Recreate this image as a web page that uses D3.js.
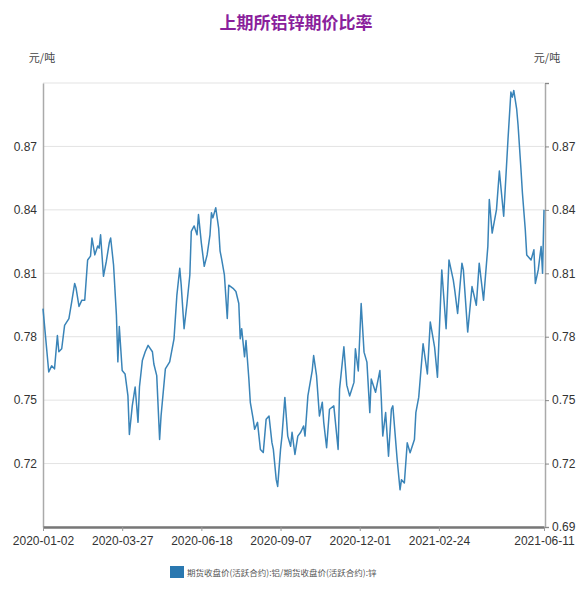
<!DOCTYPE html>
<html>
<head>
<meta charset="utf-8">
<script src="https://cdn.jsdelivr.net/npm/d3@7"></script>
<style>
  html, body { margin: 0; padding: 0; background: #ffffff; }
  svg { display: block; }
  text { font-family: "Liberation Sans", "Noto Sans CJK SC", sans-serif; }
</style>
</head>
<body>
<svg id="chart" width="576" height="590"></svg>
<script>
// ---- data ----
const chartTitle = "上期所铝锌期价比率";
const unitLabel = "元/吨";
const seriesName = "期货收盘价(活跃合约):铝/期货收盘价(活跃合约):锌";

// trading-day index (0 = 2020-01-02, 348 = 2021-06-11)
const dayIndex = [
  0,4,6,8,10,11,13,15,18,20,22,23,25,27,29,31,33,34,36,38,39,40,42,44,46,47,49,51,52,53,
  55,57,59,60,62,64,66,67,69,71,73,76,77,79,81,82,85,88,91,93,95,96,98,100,102,103,105,107,108,110,
  112,114,116,117,118,120,122,123,124,126,128,129,132,134,136,137,138,140,141,143,144,146,147,149,151,153,155,157,159,160,
  162,163,165,166,168,170,172,173,175,177,179,181,182,184,187,188,190,192,194,195,197,199,202,205,206,209,211,213,216,217,
  219,221,223,225,227,228,231,234,235,236,238,240,242,243,246,248,249,251,253,255,258,259,261,264,267,269,272,274,277,280,
  282,285,286,288,291,292,295,298,301,303,306,309,310,312,315,317,320,323,325,326,327,329,330,332,333,335,336,339,341,342,
  344,346,347,348
];
const ratio = [
  0.7933,0.7633,0.7662,0.7648,0.7806,0.7729,0.7743,0.7854,0.7886,0.7967,0.8052,0.8029,0.7943,0.7973,0.7973,0.8163,0.8181,0.8267,0.8187,0.8229,0.8219,0.8282,0.8086,0.8157,0.8243,0.8267,0.8140,0.7901,0.7681,0.7848,
  0.7640,0.7624,0.7520,0.7338,0.7473,0.7562,0.7395,0.7562,0.7687,0.7729,0.7759,0.7729,0.7671,0.7616,0.7314,0.7425,0.7648,0.7681,0.7790,0.7997,0.8124,0.8044,0.7838,0.7957,0.8092,0.8298,0.8324,0.8282,0.8378,0.8243,
  0.8133,0.8187,0.8282,0.8386,0.8362,0.8410,0.8314,0.8205,0.8171,0.8092,0.7886,0.8044,0.8029,0.8014,0.7957,0.7790,0.7838,0.7705,0.7782,0.7600,0.7490,0.7410,0.7362,0.7395,0.7267,0.7252,0.7410,0.7425,0.7300,0.7267,
  0.7124,0.7092,0.7267,0.7330,0.7513,0.7330,0.7282,0.7348,0.7243,0.7330,0.7348,0.7378,0.7330,0.7520,0.7640,0.7711,0.7616,0.7425,0.7490,0.7395,0.7275,0.7457,0.7473,0.7267,0.7552,0.7752,0.7571,0.7520,0.7584,0.7743,
  0.7638,0.7957,0.7727,0.7680,0.7441,0.7600,0.7537,0.7640,0.7505,0.7330,0.7441,0.7235,0.7457,0.7473,0.7219,0.7076,0.7124,0.7108,0.7298,0.7251,0.7314,0.7441,0.7514,0.7767,0.7624,0.7870,0.7751,0.7608,0.8116,0.7838,
  0.8163,0.8068,0.8020,0.7910,0.8148,0.8116,0.7822,0.8037,0.7949,0.8148,0.7973,0.8227,0.8449,0.8290,0.8401,0.8584,0.8370,0.8735,0.8957,0.8933,0.8965,0.8878,0.8799,0.8592,0.8481,0.8306,0.8187,0.8163,0.8211,0.8052,
  0.8116,0.8227,0.8100,0.8400
];

const xTickIndex = [0, 55, 110, 165, 220, 275, 348];
const xTickLabels = ["2020-01-02","2020-03-27","2020-06-18","2020-09-07","2020-12-01","2021-02-24","2021-06-11"];
const yTicks = [0.69, 0.72, 0.75, 0.78, 0.81, 0.84, 0.87, 0.90];
const yTickLabelsLeft = ["", "0.72", "0.75", "0.78", "0.81", "0.84", "0.87", ""];
const yTickLabelsRight = ["0.69", "0.72", "0.75", "0.78", "0.81", "0.84", "0.87", ""];

// ---- layout ----
const svg = d3.select("#chart");
const plotLeft = 43, plotRight = 544, plotTop = 83, plotBottom = 527;
const x = d3.scaleLinear().domain([0, 348]).range([plotLeft, plotRight]);
const y = d3.scaleLinear().domain([0.69, 0.90]).range([plotBottom, plotTop]);

// title
svg.append("text")
  .attr("x", 296).attr("y", 29)
  .attr("text-anchor", "middle")
  .attr("font-size", 17).attr("font-weight", "bold")
  .attr("fill", "#8a1f9c")
  .style("font-family", "'Noto Sans CJK SC', sans-serif")
  .text(chartTitle);

// unit labels
svg.append("text").attr("x", 42).attr("y", 62).attr("text-anchor", "middle")
  .attr("font-size", 11).attr("fill", "#444")
  .style("font-family", "'Noto Sans CJK SC', sans-serif").text(unitLabel);
svg.append("text").attr("x", 547).attr("y", 62).attr("text-anchor", "middle")
  .attr("font-size", 11).attr("fill", "#444")
  .style("font-family", "'Noto Sans CJK SC', sans-serif").text(unitLabel);

// grid lines
svg.append("g").selectAll("line").data(yTicks).join("line")
  .attr("x1", plotLeft).attr("x2", plotRight)
  .attr("y1", d => y(d)).attr("y2", d => y(d))
  .attr("stroke", "#e3e3e3").attr("stroke-width", 1);

// left axis
const leftAxis = d3.axisLeft(y).tickValues(yTicks)
  .tickFormat((d, i) => yTickLabelsLeft[i]).tickSize(0).tickPadding(6);
const gl = svg.append("g").attr("transform", `translate(${plotLeft},0)`).call(leftAxis);
gl.select(".domain").attr("stroke", "#aaa").attr("stroke-width", 1.5);
gl.selectAll("text").attr("font-size", 12).attr("fill", "#333");

// right axis
const rightAxis = d3.axisRight(y).tickValues(yTicks)
  .tickFormat((d, i) => yTickLabelsRight[i]).tickSize(4).tickPadding(3);
const gr = svg.append("g").attr("transform", `translate(${plotRight + 1},0)`).call(rightAxis);
gr.select(".domain").attr("stroke", "#aaa").attr("stroke-width", 1.5);
gr.selectAll(".tick line").attr("stroke", "#888");
gr.selectAll("text").attr("font-size", 12).attr("fill", "#333");

// bottom axis
const bottomAxis = d3.axisBottom(x).tickValues(xTickIndex)
  .tickFormat((d, i) => xTickLabels[i]).tickSizeInner(4).tickSizeOuter(0).tickPadding(5);
const gb = svg.append("g").attr("transform", `translate(0,${plotBottom})`).call(bottomAxis);
gb.select(".domain").attr("stroke", "#777").attr("stroke-width", 2.5);
gb.selectAll(".tick line").attr("stroke", "#999");
gb.selectAll("text").attr("font-size", 12).attr("fill", "#333");

// line
const pts = dayIndex.map((d, i) => [d, ratio[i]]);
const line = d3.line().x(d => x(d[0])).y(d => y(d[1]));
svg.append("path").datum(pts)
  .attr("d", line)
  .attr("fill", "none")
  .attr("stroke", "#3a84b8")
  .attr("stroke-width", 1.5)
  .attr("stroke-linejoin", "round");

// legend
const lg = svg.append("g");
lg.append("rect").attr("x", 170).attr("y", 566).attr("width", 14).attr("height", 12)
  .attr("fill", "#2a78b0");
lg.append("text").attr("x", 187).attr("y", 576)
  .attr("font-size", 8.5).attr("fill", "#555")
  .style("font-family", "'Noto Sans CJK SC', sans-serif")
  .text(seriesName);
</script>
</body>
</html>
